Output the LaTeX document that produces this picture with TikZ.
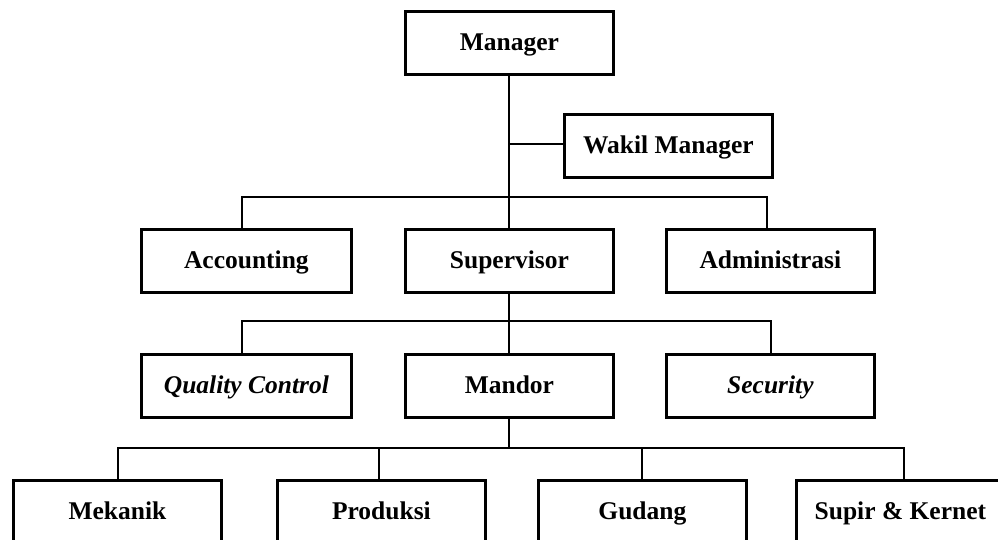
\documentclass[tikz,border=0pt]{standalone}
\usepackage{fontspec}
\setmainfont{Liberation Serif}
\begin{document}
\begin{tikzpicture}[x=1pt,y=-1pt,
  orgbox/.style={draw=black,line width=2.8pt,fill=white,minimum width=208pt,minimum height=63pt,inner sep=0pt,text height=18pt,text depth=3pt,font=\fontsize{25.5}{28}\selectfont\bfseries,anchor=north west},
  link/.style={draw=black,line width=2pt}]
\useasboundingbox (0,0) rectangle (998,540);
\clip (0,0) rectangle (998,540);
% nodes
\node[orgbox] (mgr) at (404,10) {Manager};
\node[orgbox] (wakil) at (563,113) {Wakil Manager};
\node[orgbox,minimum width=210pt] (acc) at (140,228) {Accounting};
\node[orgbox] (sup) at (404,228) {Supervisor};
\node[orgbox] (adm) at (665,228) {Administrasi};
\node[orgbox,minimum width=210pt] (qc) at (140,353) {\itshape Quality Control};
\node[orgbox] (mandor) at (404,353) {Mandor};
\node[orgbox] (sec) at (665,353) {\itshape Security};
\node[orgbox] (mek) at (12,479) {Mekanik};
\node[orgbox] (prod) at (276,479) {Produksi};
\node[orgbox] (gud) at (537,479) {Gudang};
\node[orgbox] (supir) at (795,479) {Supir \& Kernet};
% junction coordinates
\coordinate (j0) at (509,144);
\coordinate (j1) at (509,197);
\coordinate (j2) at (509,321);
\coordinate (j3) at (509,448);
% level 1
\draw[link] (mgr.south -| j1) -- (j1);
\draw[link] (j0) -- (j0 -| wakil.west);
\draw[link] (j1) -| (acc.north -| 242,0);
\draw[link] (j1) -| (adm.north -| 767,0);
\draw[link] (j1) -- (sup.north -| j1);
% level 2
\draw[link] (sup.south -| j2) -- (j2);
\draw[link] (j2) -| (qc.north -| 242,0);
\draw[link] (j2) -| (sec.north -| 771,0);
\draw[link] (j2) -- (mandor.north -| j2);
% level 3
\draw[link] (mandor.south -| j3) -- (j3);
\draw[link] (j3) -| (mek.north -| 118,0);
\draw[link] (j3) -| (prod.north -| 379,0);
\draw[link] (j3) -| (gud.north -| 642,0);
\draw[link] (j3) -| (supir.north -| 904,0);
\end{tikzpicture}
\end{document}
